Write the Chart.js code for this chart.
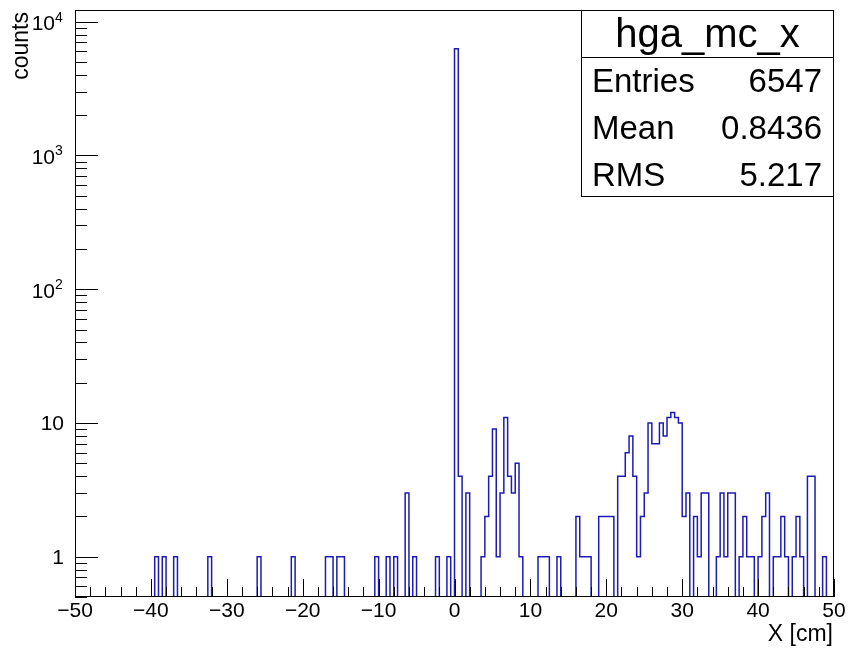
<!DOCTYPE html>
<html>
<head>
<meta charset="utf-8">
<script src="https://cdn.jsdelivr.net/npm/chart.js@4.4.1/dist/chart.umd.min.js"></script>
<style>
    html, body { margin: 0; padding: 0; background: #fff; }
</style>
</head>
<body>
<canvas id="hga-mc-x" width="848" height="649"></canvas>
<script>
// histogram: 200 bins of 0.5 cm between -50 and 50
const binLow = -50;
const binWidth = 0.5;
const counts = [
    0, 0, 0, 0, 0, 0, 0, 0, 0, 0, 0, 0, 0, 0, 0, 0, 0, 0, 0, 0,        // -50 .. -40
    0, 1, 0, 1, 0, 0, 1, 0, 0, 0, 0, 0, 0, 0, 0, 1, 0, 0, 0, 0,        // -40 .. -30
    0, 0, 0, 0, 0, 0, 0, 0, 1, 0, 0, 0, 0, 0, 0, 0, 0, 1, 0, 0,        // -30 .. -20
    0, 0, 0, 0, 0, 0, 1, 1, 0, 1, 1, 0, 0, 0, 0, 0, 0, 0, 0, 1,        // -20 .. -10
    0, 0, 1, 0, 1, 0, 0, 3, 0, 1, 0, 0, 0, 0, 0, 1, 0, 0, 1, 0,        // -10 .. 0
    6288, 4, 0, 3, 0, 0, 0, 1, 2, 4, 9, 1, 3, 11, 4, 3, 5, 1, 0, 0,    // 0 .. 10
    0, 0, 1, 1, 1, 0, 0, 1, 0, 0, 0, 0, 2, 1, 1, 1, 0, 0, 2, 2,        // 10 .. 20
    2, 2, 0, 4, 4, 6, 8, 4, 1, 2, 3, 10, 7, 7, 10, 8, 11, 12, 11, 10,  // 20 .. 30
    2, 3, 0, 2, 1, 3, 3, 0, 0, 1, 3, 1, 3, 3, 0, 1, 2, 1, 1, 0,        // 30 .. 40
    1, 2, 3, 0, 1, 1, 2, 1, 0, 1, 2, 1, 0, 4, 4, 0, 0, 1, 0, 0         // 40 .. 50
];
const xTicks = [-50, -40, -30, -20, -10, 0, 10, 20, 30, 40, 50];
const yDecades = [1, 10, 100, 1000, 10000];
const yMin = 0.5;
const yMax = 12240;

const histTitle = 'hga_mc_x';
const statNames = ['Entries', 'Mean', 'RMS'];
const statValues = ['6547', '0.8436', '5.217'];

const FONT = "'Liberation Sans', Arial, Helvetica, sans-serif";

// step points at the left edge of every bin, plus the right edge of the last one
const histPoints = () => {
    const pts = counts.map((c, i) => ({ x: binLow + i * binWidth, y: c > 0 ? c : yMin }));
    const last = counts[counts.length - 1];
    pts.push({ x: binLow + counts.length * binWidth, y: last > 0 ? last : yMin });
    return pts;
};

const line = (ctx, x1, y1, x2, y2) => {
    ctx.beginPath();
    ctx.moveTo(x1, y1);
    ctx.lineTo(x2, y2);
    ctx.stroke();
};

// ROOT style frame with ticks pointing inside, y labels with exponents, axis titles
const rootAxes = {
    id: 'rootAxes',
    afterDatasetsDraw(chart) {
        const { ctx, chartArea: a, scales: { x, y } } = chart;
        ctx.save();
        ctx.strokeStyle = '#000';
        ctx.lineWidth = 1;

        for (let v = -50; v <= 50; v += 2) {
            const px = Math.round(x.getPixelForValue(v)) + 0.5;
            const len = v % 10 === 0 ? 18 : 10;
            line(ctx, px, a.bottom, px, a.bottom - len);
        }

        for (let e = -1; e <= 4; e++) {
            for (let m = 1; m <= 9; m++) {
                const v = m * Math.pow(10, e);
                if (v < yMin || v > yMax) continue;
                const py = Math.round(y.getPixelForValue(v)) + 0.5;
                const len = m === 1 ? 23 : 12;
                line(ctx, a.left, py, a.left + len, py);
            }
        }

        ctx.strokeRect(a.left + 0.5, a.top + 0.5, a.right - a.left - 1, a.bottom - a.top - 1);

        ctx.fillStyle = '#000';
        ctx.textBaseline = 'middle';
        yDecades.forEach(d => {
            const py = y.getPixelForValue(d);
            if (d < 100) {
                ctx.font = '21px ' + FONT;
                ctx.textAlign = 'right';
                ctx.fillText(String(d), 64, py + 1);
            } else {
                ctx.font = '21px ' + FONT;
                ctx.textAlign = 'right';
                ctx.fillText('10', 55, py + 2.5);
                ctx.font = '14px ' + FONT;
                ctx.textAlign = 'left';
                ctx.fillText(String(Math.round(Math.log10(d))), 55, py - 4);
            }
        });

        ctx.font = '23px ' + FONT;
        ctx.textBaseline = 'alphabetic';
        ctx.textAlign = 'right';
        ctx.fillText('X [cm]', a.right - 1, 641);

        ctx.save();
        ctx.translate(28, a.top + 2);
        ctx.rotate(-Math.PI / 2);
        ctx.fillText('counts', 0, 0);
        ctx.restore();

        ctx.restore();
    }
};

const statsBox = {
    id: 'statsBox',
    afterDraw(chart) {
        const { ctx, chartArea: a } = chart;
        const left = 581, right = a.right, top = a.top, bottom = 196, split = 57;
        ctx.save();
        ctx.fillStyle = '#fff';
        ctx.fillRect(left, top, right - left, bottom - top);
        ctx.strokeStyle = '#000';
        ctx.lineWidth = 1;
        ctx.strokeRect(left + 0.5, top + 0.5, right - left - 1, bottom - top);
        line(ctx, left, split + 0.5, right, split + 0.5);

        ctx.fillStyle = '#000';
        ctx.textBaseline = 'alphabetic';
        ctx.font = '40px ' + FONT;
        ctx.textAlign = 'center';
        ctx.fillText(histTitle, (left + right) / 2, 47);

        ctx.font = '33px ' + FONT;
        statNames.forEach((name, i) => {
            const base = 92 + i * 47;
            ctx.textAlign = 'left';
            ctx.fillText(name, left + 11, base);
            ctx.textAlign = 'right';
            ctx.fillText(statValues[i], right - 12, base);
        });
        ctx.restore();
    }
};

const config = {
    type: 'line',
    data: {
        datasets: [{
            label: histTitle,
            data: histPoints(),
            stepped: 'before',
            borderColor: '#1c1cb4',
            borderWidth: 1.5,
            pointRadius: 0,
            fill: false,
            tension: 0
        }]
    },
    options: {
        responsive: false,
        animation: false,
        layout: { padding: { top: 10, right: 14, left: 0, bottom: 0 } },
        plugins: {
            legend: { display: false },
            tooltip: { enabled: false }
        },
        scales: {
            x: {
                type: 'linear',
                min: -50,
                max: 50,
                afterBuildTicks: s => { s.ticks = xTicks.map(v => ({ value: v })); },
                afterFit: s => { s.height = 52; },
                grid: { display: false, drawTicks: false },
                border: { display: false },
                ticks: {
                    autoSkip: false,
                    maxRotation: 0,
                    padding: 2,
                    color: '#000',
                    font: { family: FONT, size: 21 },
                    callback: v => (v < 0 ? '\u2212' + Math.abs(v) : String(v))
                }
            },
            y: {
                type: 'logarithmic',
                min: yMin,
                max: yMax,
                afterFit: s => { s.width = 75; },
                grid: { display: false },
                border: { display: false },
                ticks: { display: false }
            }
        }
    },
    plugins: [rootAxes, statsBox]
};

const chartHist = new Chart(document.getElementById('hga-mc-x'), config);
</script>
</body>
</html>
